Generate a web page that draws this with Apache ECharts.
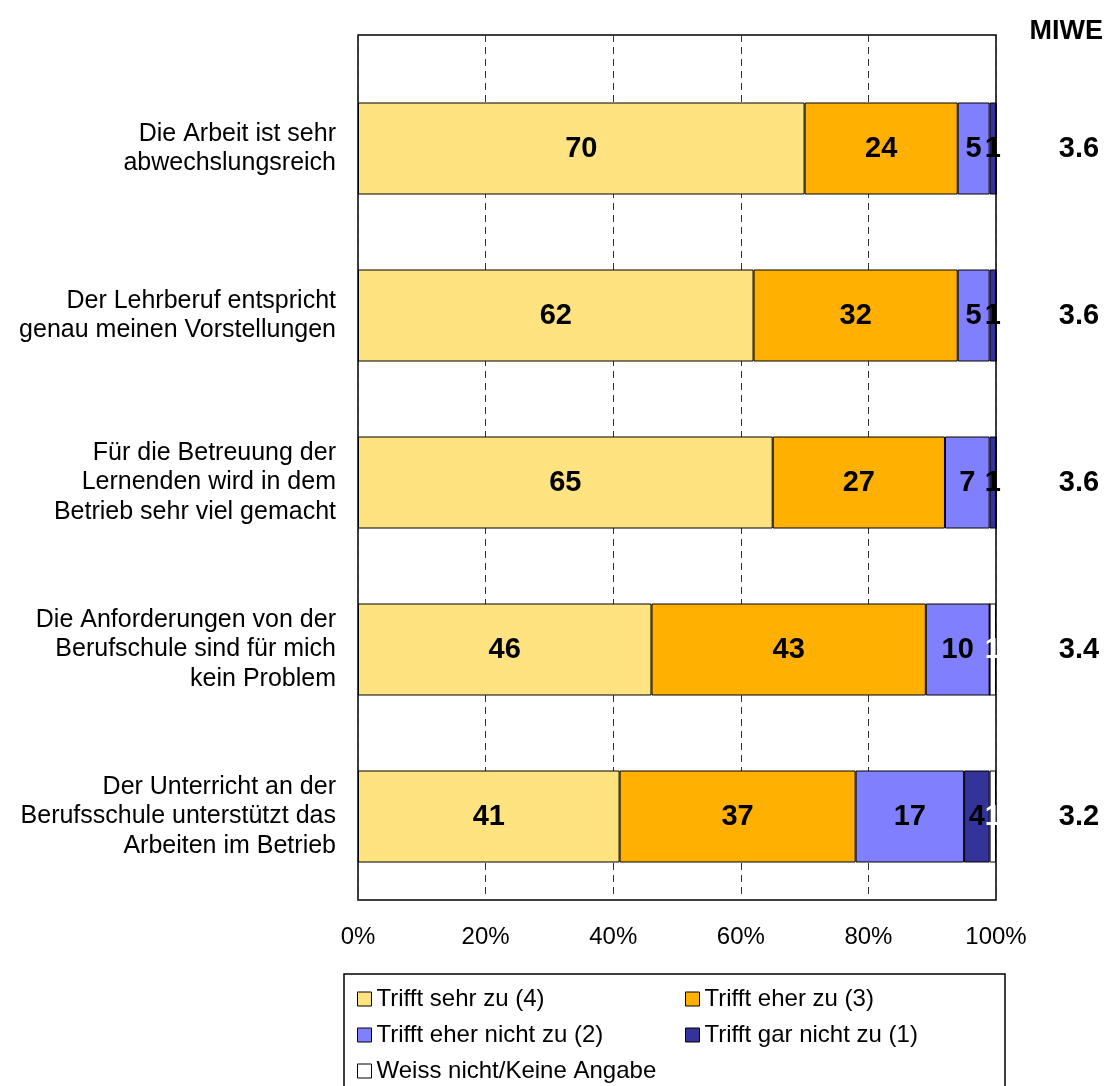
<!DOCTYPE html>
<html>
<head>
<meta charset="utf-8">
<script src="https://cdn.jsdelivr.net/npm/echarts@6/dist/echarts.min.js"></script>
<style>
  html, body { margin: 0; padding: 0; background: #fff; }
  #chart { width: 1109px; height: 1086px; }
</style>
</head>
<body>
<div id="chart"></div>
<script>
// Survey statements (top to bottom)
const categories = [
  'Die Arbeit ist sehr\nabwechslungsreich',
  'Der Lehrberuf entspricht\ngenau meinen Vorstellungen',
  'Für die Betreuung der\nLernenden wird in dem\nBetrieb sehr viel gemacht',
  'Die Anforderungen von der\nBerufschule sind für mich\nkein Problem',
  'Der Unterricht an der\nBerufsschule unterstützt das\nArbeiten im Betrieb'
];

// Answer shares in percent
const triffSehrZu     = [70, 62, 65, 46, 41];
const triffEherZu     = [24, 32, 27, 43, 37];
const triffEherNicht  = [5, 5, 7, 10, 17];
const triffGarNicht   = [1, 1, 1, 0, 4];
const weissNicht      = [0, 0, 0, 1, 1];

// Mean values (MIWE)
const miwe = ['3.6', '3.6', '3.6', '3.4', '3.2'];

const xTicks = [0, 20, 40, 60, 80, 100];

const FONT = "'Liberation Sans', Arial, sans-serif";

const seriesDefs = [
  { name: 'Trifft sehr zu (4)',        data: triffSehrZu,    color: '#FFE380', label: '#000' },
  { name: 'Trifft eher zu (3)',        data: triffEherZu,    color: '#FFB000', label: '#000' },
  { name: 'Trifft eher nicht zu (2)',  data: triffEherNicht, color: '#8080FF', label: '#000' },
  { name: 'Trifft gar nicht zu (1)',   data: triffGarNicht,  color: '#333399', label: '#000' },
  { name: 'Weiss nicht/Keine Angabe',  data: weissNicht,     color: '#FFFFFF', label: '#FFF' }
];

const chart = echarts.init(document.getElementById('chart'), null, { renderer: 'canvas' });

const legendCommon = {
  orient: 'vertical', top: 982, height: 160, itemWidth: 14, itemHeight: 14, itemGap: 12,
  icon: 'rect', selectedMode: false,
  itemStyle: { borderColor: '#000', borderWidth: 1 },
  textStyle: { fontFamily: FONT, fontSize: 24, color: '#000' }
};

const option = {
  backgroundColor: '#fff',
  animation: false,
  title: {
    text: 'MIWE',
    right: 6,
    top: 18,
    padding: 0,
    textStyle: { fontFamily: FONT, fontSize: 27, fontWeight: 'bold', color: '#000' }
  },
  grid: [
    // frame with the percent scale
    { left: 358, right: 113, top: 35, bottom: 186, show: true, borderColor: '#000', borderWidth: 1.5, backgroundColor: 'transparent' },
    // bar band area
    { left: 358, right: 113, top: 65, bottom: 186 }
  ],
  xAxis: [
    {
      gridIndex: 0, type: 'value', min: xTicks[0], max: xTicks[xTicks.length - 1], interval: 20,
      axisLine: { show: false }, axisTick: { show: false },
      splitLine: { show: true, lineStyle: { color: '#333', width: 1, type: [7, 5] } },
      axisLabel: { formatter: '{value}%', fontFamily: FONT, fontSize: 24, color: '#000', margin: 25 }
    },
    {
      gridIndex: 1, type: 'value', min: 0, max: 100, show: false
    }
  ],
  yAxis: [
    { gridIndex: 0, type: 'value', show: false, min: 0, max: 1 },
    {
      gridIndex: 1, type: 'category', data: categories, inverse: true,
      axisLine: { show: false }, axisTick: { show: false }, splitLine: { show: false },
      axisLabel: { fontFamily: FONT, fontSize: 25, color: '#000', align: 'right', lineHeight: 29.5, margin: 22 }
    },
    {
      gridIndex: 1, type: 'category', data: miwe, inverse: true, position: 'right',
      axisLine: { show: false }, axisTick: { show: false }, splitLine: { show: false },
      axisLabel: { fontFamily: FONT, fontSize: 29, fontWeight: 'bold', color: '#000', align: 'center', margin: 83 }
    }
  ],
  legend: [
    Object.assign({ data: [seriesDefs[0].name, seriesDefs[2].name, seriesDefs[4].name], left: 352 }, legendCommon),
    Object.assign({ data: [seriesDefs[1].name, seriesDefs[3].name], left: 680 }, legendCommon)
  ],
  graphic: [
    {
      type: 'rect', shape: { x: 344, y: 974, width: 661, height: 140 },
      style: { fill: 'transparent', stroke: '#000', lineWidth: 1.5 }, z: 0
    }
  ],
  series: seriesDefs.map(s => ({
    name: s.name,
    type: 'bar',
    stack: 'total',
    xAxisIndex: 1,
    yAxisIndex: 1,
    barWidth: 92,
    data: s.data,
    itemStyle: { color: s.color, borderColor: '#000', borderWidth: 1 },
    label: {
      show: true,
      position: 'inside',
      fontFamily: FONT,
      fontSize: 29,
      fontWeight: 'bold',
      color: s.label,
      formatter: p => (p.value ? String(p.value) : '')
    }
  }))
};

chart.setOption(option);
</script>
</body>
</html>
